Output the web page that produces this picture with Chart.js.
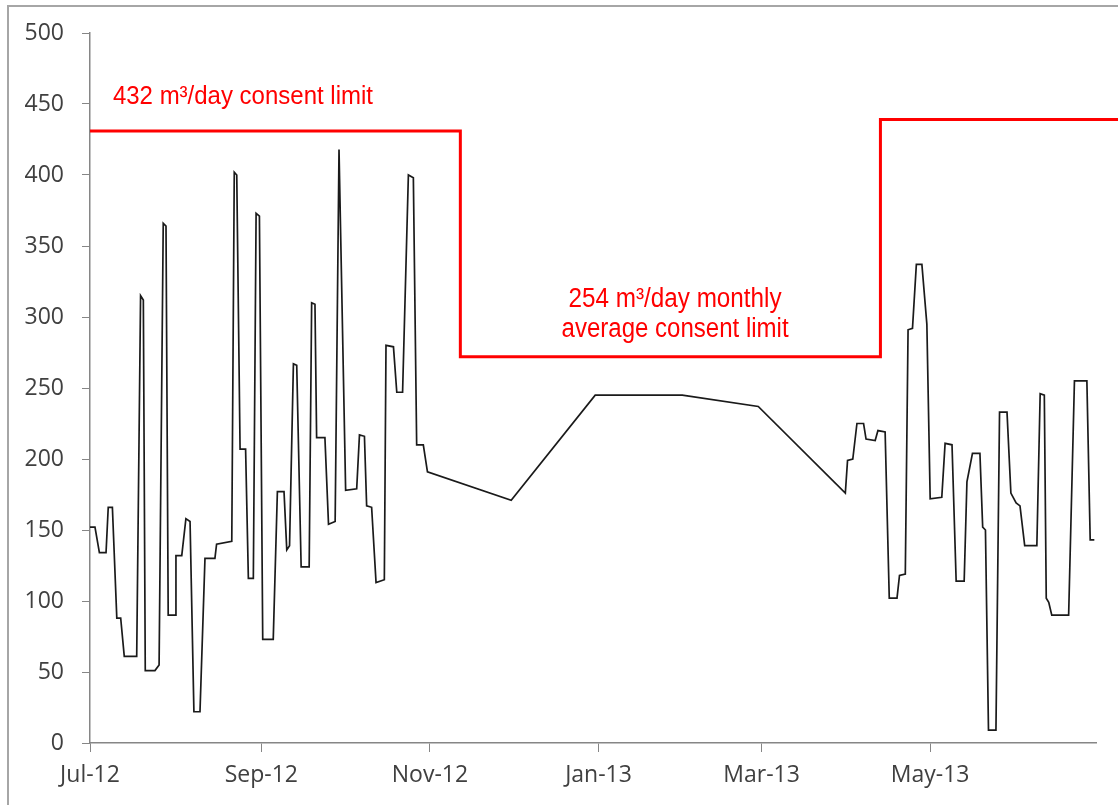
<!DOCTYPE html>
<html>
<head>
<meta charset="utf-8">
<script src="https://cdn.jsdelivr.net/npm/chart.js@4.4.1/dist/chart.umd.min.js"></script>
<style>
  html, body { margin: 0; padding: 0; background: #ffffff; }
  #wrap { width: 1118px; height: 805px; position: relative; }
</style>
</head>
<body>
<div id="wrap"><canvas id="c" width="1118" height="805"></canvas></div>
<script>
// ---- Data (days counted from 1 Jul 2012) ----
const flowDays = [0, 1.8, 3.4, 5.8, 6.6, 8.1, 9.7, 11.1, 12.4, 16.9, 18.3, 19.3, 20.0, 23.5, 25.0, 26.5, 27.5, 28.3, 30.8, 31.1,
  33.2, 34.7, 36.2, 37.6, 39.8, 41.6, 45.2, 45.8, 51.3, 52.2, 53.1, 54.3, 56.3, 57.3, 59.1, 60.1, 61.3, 62.5, 66.3, 67.8,
  70.2, 71.2, 72.2, 73.6, 74.8, 76.4, 79.3, 80.2, 81.4, 82.0, 85.0, 86.3, 88.7, 90.1, 92.5, 96.5, 97.5, 99.3, 100.1, 101.9,
  103.5, 106.5, 107.1, 109.8, 111.0, 113.1, 115.2, 117.0, 118.2, 120.6, 122.1, 152.4, 182.8, 214.3, 241.8, 273.3, 274.1, 276.0, 277.5, 279.9,
  280.8, 284.1, 285.1, 287.7, 289.2, 292.0, 292.9, 295.0, 296.0, 297.6, 299.0, 301.0, 302.8, 304.0, 308.2, 309.4, 311.9, 313.4, 316.3, 317.3,
  319.3, 322.0, 323.0, 324.0, 325.1, 327.8, 329.1, 331.8, 333.2, 335.1, 336.5, 338.2, 342.6, 343.8, 345.3, 346.0, 346.9, 348.0, 354.1, 356.2,
  360.7, 361.9, 363.4];
const flowValues = [152, 152, 134, 134, 166, 166, 88, 88, 61, 61, 315, 312, 51, 51, 55, 366, 364, 90, 90, 132,
  132, 158, 156, 22, 22, 130, 130, 140, 142, 402, 400, 207, 207, 116, 116, 373, 371, 73, 73, 177,
  177, 136, 139, 267, 266, 124, 124, 310, 309, 215, 215, 154, 156, 418, 178, 179, 217, 216, 167, 166,
  113, 115, 280, 279, 247, 247, 400, 398, 210, 210, 191, 171, 245, 245, 237, 176, 199, 200, 225, 225,
  214, 213, 220, 219, 102, 102, 118, 119, 291, 292, 337, 337, 295, 172, 173, 211, 210, 114, 114, 184,
  204, 204, 152, 150, 9, 9, 233, 233, 176, 169, 167, 139, 139, 246, 245, 102, 99, 90, 90, 255,
  255, 143, 143];

const limitDays = [0, 134, 134, 286, 286, 372];
const limitValues = [431, 431, 272, 272, 439, 439];

const tickDays = [0, 62, 123, 184, 243, 304];
const tickLabels = ["Jul-12", "Sep-12", "Nov-12", "Jan-13", "Mar-13", "May-13"];

const noteTop = "432 m³/day consent limit";
const noteLow1 = "254 m³/day monthly";
const noteLow2 = "average consent limit";

// ---- Chart ----
const axisGray = "#868686";
const labelColor = "#404040";
const tickFont = { family: "'Open Sans', 'Liberation Sans', sans-serif", size: 23 };

const framePlugin = {
  id: "frame",
  beforeDraw(chart) {
    const ctx = chart.ctx;
    ctx.save();
    ctx.fillStyle = "#ffffff";
    ctx.fillRect(0, 0, chart.width, chart.height);
    ctx.strokeStyle = "#a6a6a6";
    ctx.lineWidth = 2;
    ctx.beginPath();
    ctx.moveTo(8, chart.height);
    ctx.lineTo(8, 6);
    ctx.lineTo(chart.width, 6);
    ctx.stroke();
    ctx.restore();
  }
};

const notesPlugin = {
  id: "notes",
  afterDatasetsDraw(chart) {
    const ctx = chart.ctx;
    const xs = chart.scales.x, ys = chart.scales.y;
    ctx.save();
    ctx.fillStyle = "#ff0000";
    ctx.textBaseline = "alphabetic";
    const fam = "'Liberation Sans Narrow', 'Arial Narrow', 'Liberation Sans', sans-serif";
    function put(text, xDay, yVal, align, targetW, size) {
      ctx.font = size + "px " + fam;
      const w = ctx.measureText(text).width;
      const sx = targetW / w;
      const px = xs.getPixelForValue(xDay);
      const py = ys.getPixelForValue(yVal);
      ctx.save();
      ctx.translate(px, py);
      ctx.scale(sx, 1);
      ctx.textAlign = align;
      ctx.fillText(text, 0, 0);
      ctx.restore();
    }
    put(noteTop, 8.3, 450, "left", 260, 26);
    put(noteLow1, 211.7, 307, "center", 213, 27);
    put(noteLow2, 211.7, 286, "center", 227, 27);
    ctx.restore();
  }
};

new Chart(document.getElementById("c"), {
  type: "line",
  data: {
    datasets: [
      {
        label: "Daily discharge",
        data: flowDays.map((d, i) => ({ x: d, y: flowValues[i] })),
        borderColor: "#1a1a1a",
        borderWidth: 1.7,
        pointRadius: 0,
        tension: 0,
        fill: false
      },
      {
        label: "Consent limit",
        data: limitDays.map((d, i) => ({ x: d, y: limitValues[i] })),
        borderColor: "#ff0000",
        borderWidth: 3,
        pointRadius: 0,
        tension: 0,
        fill: false,
        clip: false
      }
    ]
  },
  options: {
    responsive: false,
    animation: false,
    devicePixelRatio: 1,
    layout: { padding: { top: 33, right: 22, bottom: 0, left: 0 } },
    plugins: {
      legend: { display: false },
      tooltip: { enabled: false },
      title: { display: false }
    },
    scales: {
      x: {
        type: "linear",
        min: 0,
        max: 364,
        afterBuildTicks(scale) {
          scale.ticks = tickDays.map(v => ({ value: v }));
        },
        afterFit(scale) { scale.height = 62; },
        ticks: {
          autoSkip: false,
          maxRotation: 0,
          minRotation: 0,
          color: labelColor,
          font: tickFont,
          padding: 10,
          callback(value) {
            const i = tickDays.indexOf(value);
            return i >= 0 ? tickLabels[i] : "";
          }
        },
        grid: {
          drawOnChartArea: false,
          drawTicks: true,
          tickLength: 9,
          color: axisGray,
          lineWidth: 1
        },
        border: { display: true, color: axisGray, width: 1.5 }
      },
      y: {
        min: 0,
        max: 500,
        afterFit(scale) { scale.width = 90; },
        ticks: {
          stepSize: 50,
          color: labelColor,
          font: tickFont,
          padding: 18
        },
        grid: {
          drawOnChartArea: false,
          drawTicks: true,
          tickLength: 8,
          color: axisGray,
          lineWidth: 1
        },
        border: { display: true, color: axisGray, width: 1.5 }
      }
    }
  },
  plugins: [framePlugin, notesPlugin]
});
</script>
</body>
</html>
